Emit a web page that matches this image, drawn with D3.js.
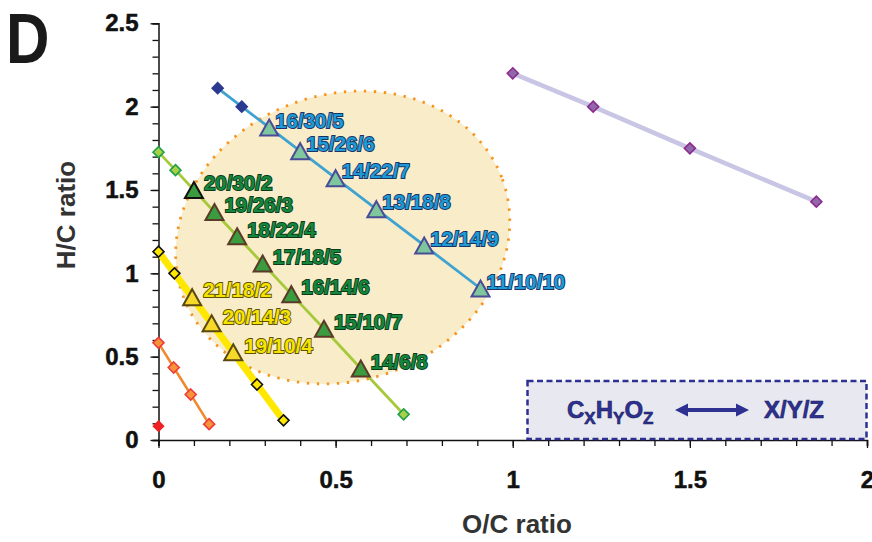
<!DOCTYPE html>
<html>
<head>
<meta charset="utf-8">
<script src="https://cdn.jsdelivr.net/npm/d3@7"></script>
<style>
  body { margin: 0; background: #fff; }
  text { font-family: "Liberation Sans", Arial, sans-serif; font-weight: bold; }
</style>
</head>
<body>
<svg class="vk" width="872" height="542"></svg>
<script>
// values (O/C, H/C); "" label = diamond marker
var blueOC = [0.167, 0.235, 0.3125, 0.4, 0.5, 0.615, 0.75, 0.909];
var blueHC = [2.111, 2.0, 1.875, 1.733, 1.571, 1.385, 1.167, 0.909];
var blueLab = ["", "", "16/30/5", "15/26/6", "14/22/7", "13/18/8", "12/14/9", "11/10/10"];

var greenOC = [0, 0.048, 0.1, 0.158, 0.222, 0.294, 0.375, 0.467, 0.571, 0.692];
var greenHC = [1.727, 1.619, 1.5, 1.368, 1.222, 1.059, 0.875, 0.667, 0.429, 0.154];
var greenLab = ["", "", "20/30/2", "19/26/3", "18/22/4", "17/18/5", "16/14/6", "15/10/7", "14/6/8", ""];

var yellowOC = [0, 0.045, 0.095, 0.15, 0.211, 0.278, 0.353];
var yellowHC = [1.13, 1.0, 0.857, 0.7, 0.526, 0.333, 0.118];
var yellowLab = ["", "", "21/18/2", "20/14/3", "19/10/4", "", ""];

var orangeOC = [0, 0.043, 0.091, 0.143];
var orangeHC = [0.583, 0.435, 0.273, 0.095];

var redOC = [0];
var redHC = [0.083];

var purpleOC = [1.0, 1.227, 1.5, 1.857];
var purpleHC = [2.2, 2.0, 1.75, 1.43];

var xMajor = [0, 0.5, 1, 1.5, 2];
var yMajor = [0, 0.5, 1, 1.5, 2, 2.5];

var svg = d3.select(".vk"),
    margin = {top: 23.3, right: 5, bottom: 102, left: 158.5},
    width = +svg.attr("width") - margin.left - margin.right,
    height = +svg.attr("height") - margin.top - margin.bottom,
    g = svg.append("g").attr("transform", "translate(" + margin.left + "," + margin.top + ")");

var x = d3.scaleLinear().domain([0, 2]).range([0, width]);
var y = d3.scaleLinear().domain([0, 2.5]).range([height, 0]);

function zip(xs, ys, labs) {
  return xs.map(function(v, i) { return {oc: v, hc: ys[i], lab: labs ? labs[i] : ""}; });
}

// shaded region
g.append("g")
    .attr("transform", "translate(" + x(0.52) + "," + y(1.215) + ") rotate(-20)")
  .append("ellipse")
    .attr("rx", 170)
    .attr("ry", 143)
    .attr("fill", "#F9ECC9")
    .attr("stroke", "#F7941D")
    .attr("stroke-width", 2.8)
    .attr("stroke-dasharray", "2.4 7.6");

// axes
var xMinor = d3.range(0, 2.001, 0.1);
var yMinor = d3.range(0, 2.501, 0.1);

var gx = g.append("g").attr("transform", "translate(0," + height + ")");
gx.call(d3.axisBottom(x).tickValues(xMinor).tickSize(6).tickFormat(""));
gx.append("g").call(d3.axisBottom(x).tickValues(xMajor).tickSize(8).tickPadding(23)
    .tickFormat(function(d) { return String(d); }));
gx.selectAll(".domain").filter(function(d, i) { return i > 0; }).remove();

var gy = g.append("g");
gy.call(d3.axisLeft(y).tickValues(yMinor).tickSize(6).tickFormat(""));
gy.append("g").call(d3.axisLeft(y).tickValues(yMajor).tickSize(8).tickPadding(12)
    .tickFormat(function(d) { return String(d); }));
gy.selectAll(".domain").filter(function(d, i) { return i > 0; }).remove();

svg.selectAll(".domain").attr("stroke", "#111").attr("stroke-width", 1.5);
svg.selectAll(".tick line").attr("stroke", "#111").attr("stroke-width", 1.3);
svg.selectAll(".tick text")
    .attr("font-size", 24)
    .attr("font-family", "Liberation Sans, Arial, sans-serif")
    .attr("font-weight", "bold")
    .attr("fill", "#111")
    .attr("stroke", "#111")
    .attr("stroke-width", 0.5);

// axis titles
svg.append("text")
    .attr("x", 517).attr("y", 533)
    .attr("text-anchor", "middle")
    .attr("font-size", 26)
    .attr("fill", "#333")
    .text("O/C ratio");

svg.append("text")
    .attr("transform", "translate(75,215) rotate(-90)")
    .attr("text-anchor", "middle")
    .attr("font-size", 26)
    .attr("fill", "#333")
    .text("H/C ratio");

svg.append("text")
    .attr("transform", "translate(6,63) scale(0.86,1)")
    .attr("font-size", 70)
    .attr("fill", "#1a1a1a")
    .text("D");

var line = d3.line()
    .x(function(d) { return x(d.oc); })
    .y(function(d) { return y(d.hc); });

function diamond(sel, r, fill, stroke, sw) {
  sel.append("path")
      .attr("d", "M0," + (-r) + "L" + r + ",0L0," + r + "L" + (-r) + ",0Z")
      .attr("fill", fill)
      .attr("stroke", stroke)
      .attr("stroke-width", sw);
}

function drawSeries(data, opt) {
  g.append("path")
      .datum(data)
      .attr("fill", "none")
      .attr("stroke", opt.line)
      .attr("stroke-width", opt.lw)
      .attr("stroke-linecap", "butt")
      .attr("d", line);

  var pts = g.append("g").selectAll("g")
      .data(data)
    .enter().append("g")
      .attr("transform", function(d) { return "translate(" + x(d.oc) + "," + y(d.hc) + ")"; });

  pts.filter(function(d) { return !d.lab; }).each(function() {
    diamond(d3.select(this), opt.dr || 5, opt.dFill, opt.dStroke, opt.dsw || 1.6);
  });

  if (opt.tFill) {
    var tw = 18, th = 16;
    pts.filter(function(d) { return d.lab; }).append("path")
        .attr("d", "M0," + (-th / 2) + "L" + (tw / 2) + "," + (th / 2) + "L" + (-tw / 2) + "," + (th / 2) + "Z")
        .attr("fill", opt.tFill)
        .attr("stroke", function(d, i) { return (i === 0 && opt.tStroke0) ? opt.tStroke0 : opt.tStroke; })
        .attr("stroke-width", 2)
        .attr("stroke-linejoin", "miter");

    pts.filter(function(d) { return d.lab; }).append("text")
        .attr("x", opt.dx)
        .attr("y", -7)
        .attr("dy", "0.35em")
        .attr("font-size", 20.5)
        .attr("fill", opt.tc)
        .attr("stroke", opt.ts)
        .attr("stroke-width", 1.8)
        .attr("paint-order", "stroke")
        .text(function(d) { return d.lab; });
  }
}

drawSeries(zip(purpleOC, purpleHC), {
  line: "#C8C6E4", lw: 4.5, dFill: "#8F6AAA", dStroke: "#8E2A8E", dr: 5.5
});

drawSeries(zip(orangeOC, orangeHC), {
  line: "#F0892E", lw: 2.5, dFill: "#F7943A", dStroke: "#EE3B3B", dr: 5.5
});

drawSeries(zip(redOC, redHC), {
  line: "none", lw: 0, dFill: "#EE2222", dStroke: "#EE2222", dr: 5
});

drawSeries(zip(yellowOC, yellowHC, yellowLab), {
  line: "#FFE800", lw: 7, dFill: "#FFE800", dStroke: "#111", dr: 5.5,
  tFill: "#F7D92A", tStroke: "#5A4810", tStroke0: "#5A4810",
  tc: "#F5E300", ts: "#5E5200", dx: 11
});

drawSeries(zip(greenOC, greenHC, greenLab), {
  line: "#A6C93A", lw: 2.8, dFill: "#A9D046", dStroke: "#1FA04A", dr: 5.5,
  tFill: "#3A9B3F", tStroke: "#5B3A28", tStroke0: "#111",
  tc: "#15873D", ts: "#0B3A1A", dx: 10
});

drawSeries(zip(blueOC, blueHC, blueLab), {
  line: "#3FA3D2", lw: 2.8, dFill: "#2B3990", dStroke: "#2B3990", dr: 5.5,
  tFill: "#7EC69B", tStroke: "#4A4C98",
  tc: "#1C9BD7", ts: "#1D3366", dx: 6
});

// legend box
var lg = svg.append("g");
lg.append("rect")
    .attr("x", 527.5).attr("y", 381)
    .attr("width", 339).attr("height", 58)
    .attr("fill", "#E8E8F1")
    .attr("stroke", "#2E3192")
    .attr("stroke-width", 2.5)
    .attr("stroke-dasharray", "6 3.5");

var ft = lg.append("text")
    .attr("x", 567).attr("y", 418)
    .attr("font-size", 24)
    .attr("fill", "#2E3192")
    .attr("stroke", "#1a1f5e")
    .attr("stroke-width", 0.6);
ft.append("tspan").text("C");
ft.append("tspan").attr("dy", 6).attr("font-size", 17).text("X");
ft.append("tspan").attr("dy", -6).text("H");
ft.append("tspan").attr("dy", 6).attr("font-size", 17).text("Y");
ft.append("tspan").attr("dy", -6).text("O");
ft.append("tspan").attr("dy", 6).attr("font-size", 17).text("Z");

lg.append("line")
    .attr("x1", 684).attr("x2", 740)
    .attr("y1", 410).attr("y2", 410)
    .attr("stroke", "#2E3192")
    .attr("stroke-width", 4);
lg.append("path")
    .attr("d", "M675,410L688,403.5L688,416.5Z M749,410L736,403.5L736,416.5Z")
    .attr("fill", "#2E3192");

lg.append("text")
    .attr("x", 764).attr("y", 418)
    .attr("font-size", 24)
    .attr("fill", "#2E3192")
    .attr("stroke", "#1a1f5e")
    .attr("stroke-width", 0.6)
    .text("X/Y/Z");
</script>
</body>
</html>
